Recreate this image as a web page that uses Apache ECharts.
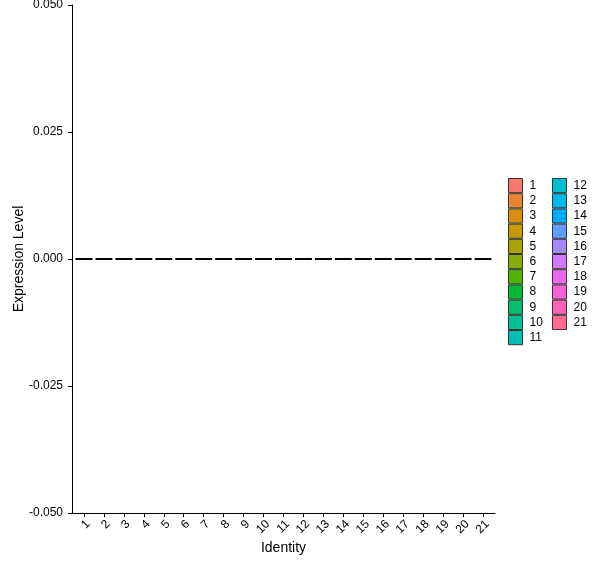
<!DOCTYPE html>
<html>
<head>
<meta charset="utf-8">
<script src="https://cdn.jsdelivr.net/npm/echarts@6/dist/echarts.min.js"></script>
<style>
html,body{margin:0;padding:0;background:#fff;}
#chart{width:600px;height:568px;}
</style>
</head>
<body>
<div id="chart"></div>
<script>
// Data
const categories = ['1','2','3','4','5','6','7','8','9','10','11','12','13','14','15','16','17','18','19','20','21'];
const expression = [0,0,0,0,0,0,0,0,0,0,0,0,0,0,0,0,0,0,0,0,0];
const yTicks = [-0.05, -0.025, 0, 0.025, 0.05];

// ggplot2 default hue palette (HCL, c=100, l=65)
function hcl(h, c, l) {
  const hr = h * Math.PI / 180;
  const U = c * Math.cos(hr), V = c * Math.sin(hr);
  const Xn = 95.047, Yn = 100, Zn = 108.883;
  const Y = l > 8 ? Yn * Math.pow((l + 16) / 116, 3) : Yn * l / 903.3;
  const t = Xn + 15 * Yn + 3 * Zn;
  const un = 4 * Xn / t, vn = 9 * Yn / t;
  const u = U / (13 * l) + un, v = V / (13 * l) + vn;
  const X = 9 * Y * u / (4 * v);
  const Z = -X / 3 - 5 * Y + 3 * Y / v;
  const x = X / 100, y = Y / 100, z = Z / 100;
  let rgb = [
    3.240479 * x - 1.537150 * y - 0.498535 * z,
    -0.969256 * x + 1.875992 * y + 0.041556 * z,
    0.055648 * x - 0.204043 * y + 1.057311 * z
  ];
  rgb = rgb.map(q => {
    q = q <= 0.0031308 ? 12.92 * q : 1.055 * Math.pow(q, 1 / 2.4) - 0.055;
    q = Math.max(0, Math.min(1, q));
    return Math.round(q * 255);
  });
  return '#' + rgb.map(q => q.toString(16).padStart(2, '0')).join('');
}
const n = categories.length;
const palette = categories.map((c, i) => hcl(15 + i * 360 / n, 100, 65));

const FONT = '"Liberation Sans", Arial, sans-serif';
const chart = echarts.init(document.getElementById('chart'));

const positions = categories.map((c, i) => i + 1);

const series = categories.map((c, i) => ({
  name: c,
  type: 'custom',
  itemStyle: { color: palette[i] },
  data: [[i + 1, expression[i]]],
  renderItem: function (params, api) {
    const p = api.coord([api.value(0), api.value(1)]);
    const w = api.size([0.85, 0])[0];
    return {
      type: 'line',
      shape: { x1: p[0] - w / 2, y1: p[1], x2: p[0] + w / 2, y2: p[1] },
      style: { stroke: '#000', lineWidth: 2 }
    };
  }
}));

const legendCommon = {
  orient: 'vertical',
  icon: 'rect',
  itemWidth: 14,
  itemHeight: 14.2,
  itemGap: 0,
  padding: 0,
  selectedMode: false,
  itemStyle: { borderColor: '#333', borderWidth: 1 },
  textStyle: { color: '#000', fontSize: 12, fontFamily: FONT, lineHeight: 14, padding: [0, 0, 0, 2] }
};

chart.setOption({
  animation: false,
  backgroundColor: '#fff',
  grid: { left: 72, right: 105, top: 5, bottom: 55, containLabel: false, outerBoundsMode: 'none' },
  legend: [
    Object.assign({}, legendCommon, { left: 508, top: 178, data: categories.slice(0, 11) }),
    Object.assign({}, legendCommon, { left: 552, top: 178, data: categories.slice(11) })
  ],
  xAxis: {
    type: 'value',
    min: 0.4,
    max: 21.6,
    name: 'Identity',
    nameLocation: 'middle',
    nameGap: 28,
    nameMoveOverlap: false,
    nameTextStyle: { color: '#000', fontSize: 14, fontFamily: FONT },
    axisLine: { show: true, onZero: false, lineStyle: { color: '#000', width: 1 } },
    axisTick: { show: true, length: 4, customValues: positions, lineStyle: { color: '#000' } },
    axisLabel: {
      customValues: positions,
      rotate: 45,
      margin: 5,
      verticalAlign: 'top',
      color: '#000',
      fontSize: 12,
      fontFamily: FONT,
      formatter: v => categories[Math.round(v) - 1]
    },
    splitLine: { show: false }
  },
  yAxis: {
    type: 'value',
    min: yTicks[0],
    max: yTicks[yTicks.length - 1],
    interval: 0.025,
    name: 'Expression Level',
    nameLocation: 'middle',
    nameGap: 46,
    nameMoveOverlap: false,
    nameTextStyle: { color: '#000', fontSize: 14, fontFamily: FONT },
    axisLine: { show: true, onZero: false, lineStyle: { color: '#000', width: 1 } },
    axisTick: { show: true, length: 4, lineStyle: { color: '#000' } },
    axisLabel: {
      margin: 9,
      color: '#000',
      fontSize: 12,
      fontFamily: FONT,
      formatter: v => (Math.abs(v) < 1e-9 ? 0 : v).toFixed(3)
    },
    splitLine: { show: false }
  },
  series: series
});
</script>
</body>
</html>
